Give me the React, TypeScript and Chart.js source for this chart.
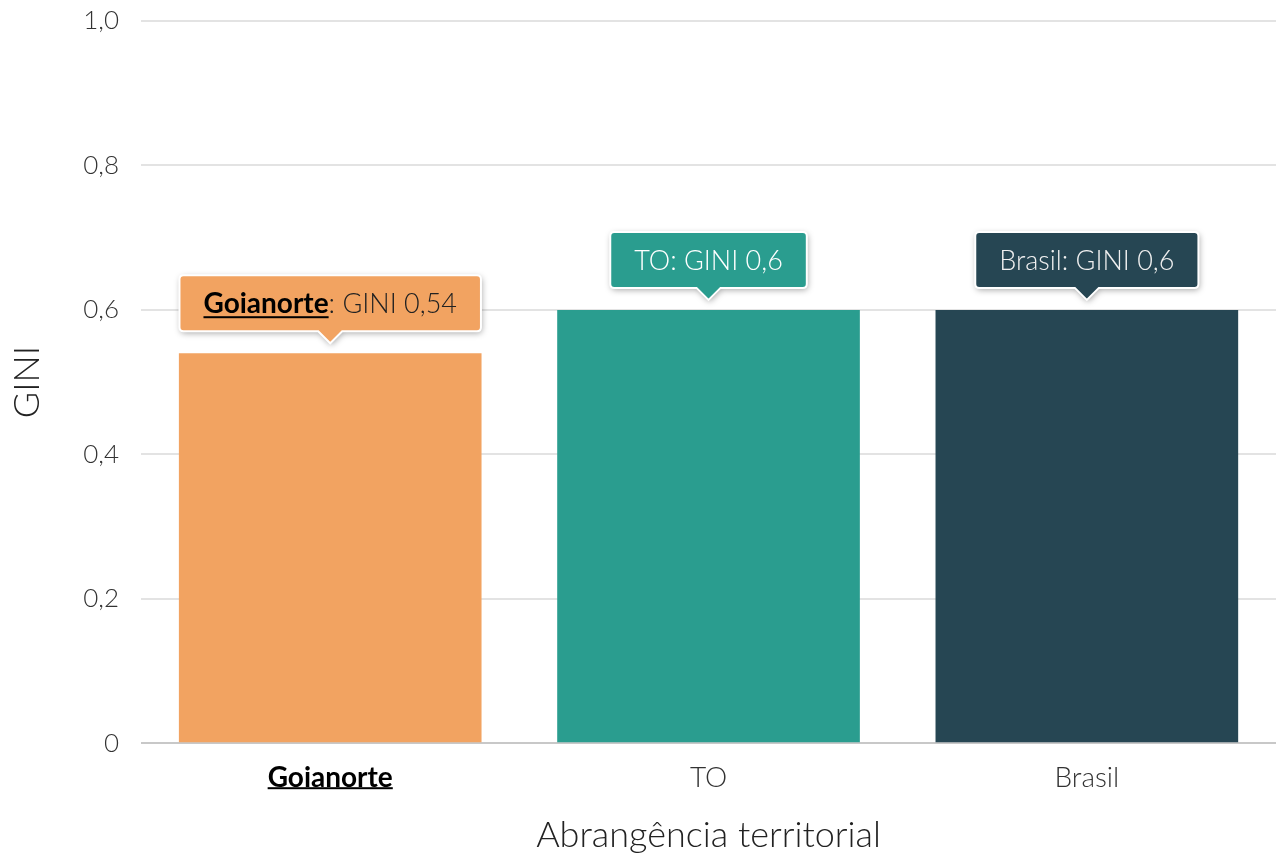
import React, { useEffect, useRef } from "react";
import { Chart, registerables } from "chart.js";

Chart.register(...registerables);

const categories = ["Goianorte", "TO", "Brasil"];
const giniValues = [0.54, 0.6, 0.6];
const barColors = ["#F2A361", "#2A9D8F", "#264653"];
const calloutTextColors = ["#222222", "#FFFFFF", "#F0F0F0"];
const yTicks = [0, 0.2, 0.4, 0.6, 0.8, 1.0];

const FONT = "Lato, 'Noto Sans', sans-serif";
const YTICK_SIZE = 26;
const XTICK_SIZE = 28;
const CALLOUT_SIZE = 27;
const CALLOUT_BOLD_SIZE = 28;

const fmt = (v: number) => (v === 0 ? "0" : String(v).replace(".", ","));
const fmtTick = (v: number) => (v === 0 ? "0" : v.toFixed(1).replace(".", ","));

const calloutPlugin = {
  id: "callouts",
  afterDatasetsDraw(chart: any) {
    const ctx = chart.ctx as CanvasRenderingContext2D;
    const meta = chart.getDatasetMeta(0);
    meta.data.forEach((bar: any, i: number) => {
      const x = bar.x;
      const y = bar.y;
      const name = categories[i];
      const rest = `: GINI ${fmt(giniValues[i])}`;
      const boldFont = `700 ${CALLOUT_BOLD_SIZE}px ${FONT}`;
      const lightFont = `300 ${CALLOUT_SIZE}px ${FONT}`;
      ctx.save();
      ctx.font = i === 0 ? boldFont : lightFont;
      const w1 = ctx.measureText(name).width;
      ctx.font = lightFont;
      const w2 = ctx.measureText(rest).width;
      const padX = 24;
      const h = 56;
      const boxW = w1 + w2 + padX * 2;
      const tipY = y - 10;
      const tipH = 12;
      const tipHalf = 12;
      const bottom = tipY - tipH;
      const top = bottom - h;
      const left = x - boxW / 2;
      const right = x + boxW / 2;
      const r = 4;

      ctx.beginPath();
      ctx.moveTo(left + r, top);
      ctx.lineTo(right - r, top);
      ctx.quadraticCurveTo(right, top, right, top + r);
      ctx.lineTo(right, bottom - r);
      ctx.quadraticCurveTo(right, bottom, right - r, bottom);
      ctx.lineTo(x + tipHalf, bottom);
      ctx.lineTo(x, tipY);
      ctx.lineTo(x - tipHalf, bottom);
      ctx.lineTo(left + r, bottom);
      ctx.quadraticCurveTo(left, bottom, left, bottom - r);
      ctx.lineTo(left, top + r);
      ctx.quadraticCurveTo(left, top, left + r, top);
      ctx.closePath();

      ctx.shadowColor = "rgba(0,0,0,0.35)";
      ctx.shadowBlur = 6;
      ctx.shadowOffsetX = 1;
      ctx.shadowOffsetY = 2;
      ctx.fillStyle = barColors[i];
      ctx.fill();
      ctx.shadowColor = "transparent";
      ctx.lineWidth = 2;
      ctx.strokeStyle = "#FFFFFF";
      ctx.stroke();

      const cy = (top + bottom) / 2 + 1;
      ctx.textBaseline = "middle";
      ctx.textAlign = "left";
      let tx = left + padX;
      ctx.font = i === 0 ? boldFont : lightFont;
      ctx.fillStyle = i === 0 ? "#000000" : calloutTextColors[i];
      ctx.fillText(name, tx, cy);
      if (i === 0) {
        ctx.fillRect(tx, cy + 12, w1, 2);
      }
      tx += w1;
      ctx.font = lightFont;
      ctx.fillStyle = calloutTextColors[i];
      ctx.fillText(rest, tx, cy);
      ctx.restore();
    });
  },
  afterDraw(chart: any) {
    const ctx = chart.ctx as CanvasRenderingContext2D;
    const xs = chart.scales.x;
    const x = xs.getPixelForTick(0);
    ctx.save();
    ctx.font = `700 ${XTICK_SIZE}px ${FONT}`;
    const w = ctx.measureText(categories[0]).width;
    const labelItems = xs._labelItems || (xs.getLabelItems ? xs.getLabelItems() : null);
    let baseY = xs.top + 12 + XTICK_SIZE;
    if (labelItems && labelItems[0]) {
      const it = labelItems[0];
      baseY = it.options.translation[1] + XTICK_SIZE * 0.5 + 12;
    }
    ctx.fillStyle = "#000000";
    ctx.fillRect(x - w / 2, baseY, w, 2);
    ctx.restore();
  },
};

export default function App() {
  const ref = useRef<HTMLCanvasElement | null>(null);
  useEffect(() => {
    if (!ref.current) return;
    const chart = new Chart(ref.current, {
      type: "bar",
      data: {
        labels: categories,
        datasets: [
          {
            data: giniValues,
            backgroundColor: barColors,
            borderWidth: 0,
            barPercentage: 0.8,
            categoryPercentage: 1,
          },
        ],
      },
      options: {
        responsive: false,
        animation: false,
        maintainAspectRatio: false,
        layout: { padding: { top: 21, right: 0, left: 6, bottom: 2 } },
        plugins: {
          legend: { display: false },
          tooltip: { enabled: false },
        },
        scales: {
          x: {
            grid: { display: false },
            border: { display: false },
            ticks: {
              padding: 10,
              font: (c: any) =>
                c.index === 0
                  ? { family: FONT, size: XTICK_SIZE, weight: "700" }
                  : { family: FONT, size: XTICK_SIZE, weight: "300" },
              color: (c: any) => (c.index === 0 ? "#000000" : "#333333"),
            },
            title: {
              display: true,
              text: "Abrangência territorial",
              font: { family: FONT, size: 36, weight: "300" },
              color: "#222222",
              padding: { top: 9, bottom: 0 },
            },
          },
          y: {
            min: 0,
            max: 1,
            afterBuildTicks: (axis: any) => {
              axis.ticks = yTicks.map((v) => ({ value: v }));
            },
            afterFit: (axis: any) => {
              axis.paddingTop = 0;
              axis.paddingBottom = 0;
            },
            grid: {
              drawTicks: false,
              color: (c: any) => (c.tick && c.tick.value === 0 ? "#C8C8C8" : "#E3E3E3"),
              lineWidth: 2,
            },
            border: { display: false },
            ticks: {
              padding: 22,
              callback: (v: any) => fmtTick(Number(v)),
              font: { family: FONT, size: YTICK_SIZE, weight: "300" },
              color: "#333333",
            },
            title: {
              display: true,
              text: "GINI",
              font: { family: FONT, size: 36, weight: "300" },
              color: "#222222",
              padding: { top: 0, bottom: 12 },
            },
          },
        },
      },
      plugins: [calloutPlugin],
    } as any);
    return () => chart.destroy();
  }, []);
  return (
    <div style={{ position: "fixed", left: 0, top: 0, width: 1276, height: 859, background: "#fff" }}>
      <canvas ref={ref} width={1276} height={859} style={{ width: 1276, height: 859, display: "block" }} />
    </div>
  );
}
